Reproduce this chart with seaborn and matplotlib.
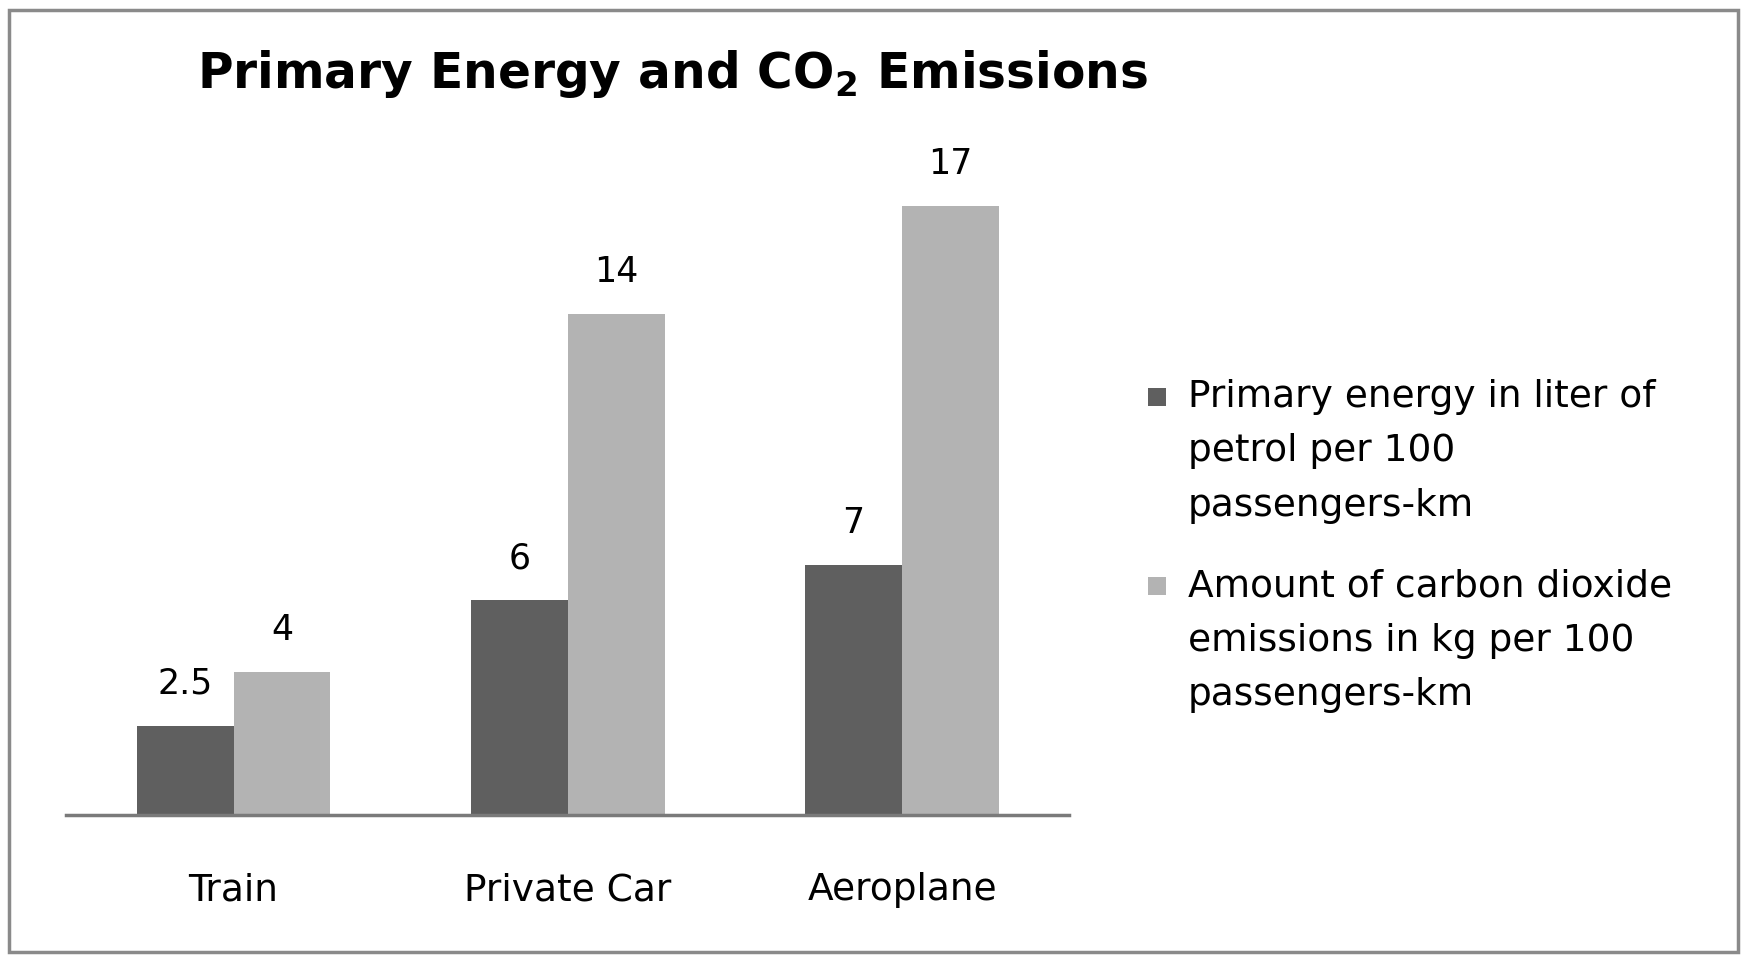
import matplotlib
matplotlib.use("Agg")
import matplotlib.pyplot as plt
import seaborn as sns
import pandas as pd
from matplotlib.patches import Rectangle
from matplotlib.legend_handler import HandlerPatch

categories = ["Train", "Private Car", "Aeroplane"]
energy = [2.5, 6, 7]
co2 = [4, 14, 17]
energy_labels = ["2.5", "6", "7"]
co2_labels = ["4", "14", "17"]
series_names = ["Primary energy in liter of\npetrol per 100\npassengers-km",
                "Amount of carbon dioxide\nemissions in kg per 100\npassengers-km"]

df = pd.DataFrame({
    "Mode": categories * 2,
    "Value": energy + co2,
    "Series": [series_names[0]] * 3 + [series_names[1]] * 3,
})

sns.set_theme(style="white")
plt.rcParams["font.family"] = ["DejaVu Sans"]
plt.rcParams["mathtext.fontset"] = "dejavusans"
plt.rcParams["text.color"] = "black"

fig = plt.figure(figsize=(17.47, 9.57), dpi=100)
ax = fig.add_axes([0.038, 0.148, 0.574, 0.674])

sns.barplot(data=df, x="Mode", y="Value", hue="Series", order=categories,
            hue_order=series_names, palette=["#5f5f5f", "#b3b3b3"],
            width=0.58, saturation=1, ax=ax, edgecolor="none", linewidth=0)

ax.set_ylim(0, 18)
ax.set_xlim(-0.5, 2.5)
ax.set_yticks([])
ax.set_xlabel("")
ax.set_ylabel("")
for s in ["top", "right", "left"]:
    ax.spines[s].set_visible(False)
ax.spines["bottom"].set_color("#7a7a7a")
ax.spines["bottom"].set_linewidth(2.5)
ax.tick_params(axis="x", length=0, pad=41, labelsize=27, colors="black")

for cont, labs in zip(ax.containers, [energy_labels, co2_labels]):
    ax.bar_label(cont, labels=labs, padding=18, fontsize=25, color="black")


def square_patch(legend, orig_handle, xdescent, ydescent, width, height, fontsize):
    side = 13
    return Rectangle((-xdescent, -ydescent + height - 19), side, side)


handles, labels = ax.get_legend_handles_labels()
ax.legend_.remove()
leg = fig.legend(handles, labels, loc="upper left", bbox_to_anchor=(0.638, 0.639),
                 frameon=False, fontsize=27, handlelength=0.5, handleheight=1.0,
                 handletextpad=0.56, labelspacing=1.2,
                 handler_map={h: HandlerPatch(patch_func=square_patch) for h in handles})
for t in leg.get_texts():
    t.set_linespacing(1.65)
    t.set_color("black")
for col in leg._legend_handle_box.get_children():
    for hp in col.get_children():
        hp.align = "top"

fig.text(0.113, 0.908, r"Primary Energy and CO$_\mathbf{2}$ Emissions", fontsize=35,
         fontweight="bold", ha="left", va="baseline", color="black")

fig.patches.append(Rectangle((0.005, 0.005), 0.99, 0.985, transform=fig.transFigure,
                             fill=False, edgecolor="#8a8a8a", linewidth=2.5))

fig.savefig("out.png", dpi=100, facecolor="white")
